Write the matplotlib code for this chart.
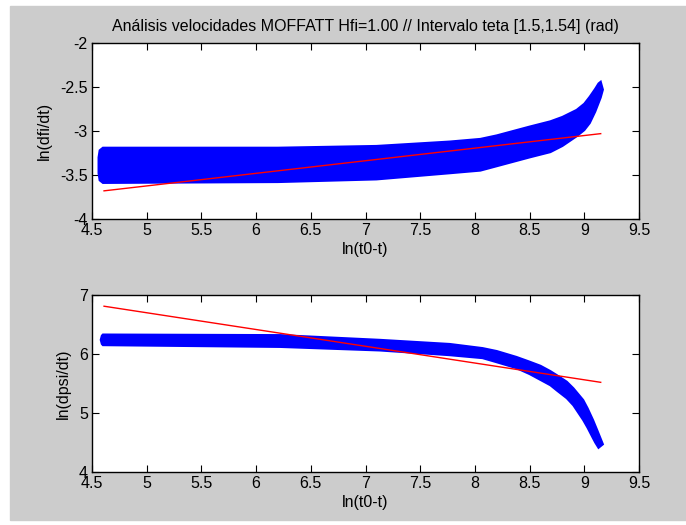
import numpy as np
import matplotlib.pyplot as plt
from matplotlib.patches import Rectangle

# === Data ===
# top panel: ln(dfi/dt) band (upper and lower edge of the blue marker cloud)
top_up_x = [4.60, 5.0, 6.2, 7.1, 7.77, 8.05, 8.2, 8.38, 8.5, 8.69, 8.8, 8.93, 9.0, 9.05, 9.1, 9.13, 9.15]
top_up_y = [-3.19, -3.19, -3.19, -3.17, -3.12, -3.09, -3.05, -2.99, -2.95, -2.89, -2.84, -2.76, -2.69, -2.61, -2.52, -2.46, -2.44]
top_lo_x = [4.60, 6.2, 7.1, 7.77, 8.05, 8.2, 8.38, 8.5, 8.69, 8.8, 8.93, 9.0, 9.05, 9.1, 9.15, 9.17]
top_lo_y = [-3.59, -3.58, -3.55, -3.48, -3.45, -3.40, -3.34, -3.30, -3.24, -3.17, -3.06, -2.99, -2.91, -2.78, -2.62, -2.53]
top_left_x = [4.57, 4.56, 4.56, 4.57]
top_left_y = [-3.56, -3.48, -3.30, -3.22]
top_fit_x = [4.61, 9.15]
top_fit_y = [-3.68, -3.03]

# bottom panel: ln(dpsi/dt)
bot_up_x = [4.60, 6.22, 7.13, 7.77, 8.07, 8.2, 8.38, 8.5, 8.6, 8.69, 8.75, 8.84, 8.9, 8.99, 9.03, 9.08, 9.12, 9.17]
bot_up_y = [6.33, 6.32, 6.24, 6.17, 6.10, 6.05, 5.95, 5.87, 5.80, 5.71, 5.64, 5.53, 5.42, 5.22, 5.08, 4.88, 4.70, 4.47]
bot_lo_x = [4.60, 6.22, 7.13, 7.77, 8.07, 8.2, 8.38, 8.5, 8.6, 8.69, 8.75, 8.84, 8.9, 8.99, 9.03, 9.08, 9.1, 9.13]
bot_lo_y = [6.15, 6.12, 6.06, 5.98, 5.93, 5.86, 5.76, 5.66, 5.56, 5.47, 5.38, 5.25, 5.13, 4.88, 4.75, 4.57, 4.50, 4.41]
bot_left_x = [4.59, 4.58, 4.59]
bot_left_y = [6.17, 6.24, 6.31]
bot_fit_x = [4.61, 9.15]
bot_fit_y = [6.81, 5.52]

xticks = [4.5, 5, 5.5, 6, 6.5, 7, 7.5, 8, 8.5, 9, 9.5]
xtick_labels = ['4.5', '5', '5.5', '6', '6.5', '7', '7.5', '8', '8.5', '9', '9.5']

plt.rcParams['font.family'] = ['Liberation Sans', 'DejaVu Sans']
fs = 11.5

fig = plt.figure(figsize=(6.86, 5.25), dpi=100, facecolor='white')
fig.patches.append(Rectangle((10 / 686, 5 / 525), 1 - 10 / 686, 1 - 11 / 525,
                             transform=fig.transFigure, color='#cccccc', zorder=-10))

ax1 = fig.add_axes([92 / 686, 1 - 219 / 525, 547 / 686, 176 / 525])
ax2 = fig.add_axes([92 / 686, 1 - 472 / 525, 547 / 686, 177 / 525])


def band(ax, ux, uy, lx, ly, mx, my):
    # outline: left edge (bottom to top), upper edge, lower edge backwards
    px = np.concatenate([mx, ux, lx[::-1]])
    py = np.concatenate([my, uy, ly[::-1]])
    ax.fill(px, py, color='blue', lw=1.5, zorder=2)


band(ax1, np.array(top_up_x), np.array(top_up_y), np.array(top_lo_x), np.array(top_lo_y),
     np.array(top_left_x), np.array(top_left_y))
ax1.plot(top_fit_x, top_fit_y, color='red', lw=1, zorder=3)
band(ax2, np.array(bot_up_x), np.array(bot_up_y), np.array(bot_lo_x), np.array(bot_lo_y),
     np.array(bot_left_x), np.array(bot_left_y))
ax2.plot(bot_fit_x, bot_fit_y, color='red', lw=1, zorder=3)

ax1.set_ylim(-4, -2)
ax1.set_yticks([-4, -3.5, -3, -2.5, -2])
ax1.set_yticklabels(['-4', '-3.5', '-3', '-2.5', '-2'])
ax2.set_ylim(4, 7)
ax2.set_yticks([4, 5, 6, 7])

for ax in (ax1, ax2):
    ax.set_xlim(4.5, 9.5)
    ax.set_xticks(xticks)
    ax.set_xticklabels(xtick_labels)
    ax.tick_params(direction='in', length=5, width=0.8, top=True, right=True,
                   labelsize=fs, pad=3)
    for s in ax.spines.values():
        s.set_linewidth(1)
    ax.set_xlabel('ln(t0-t)', fontsize=fs, labelpad=3)

ax1.set_ylabel('ln(dfi/dt)', fontsize=fs, labelpad=6)
ax2.set_ylabel('ln(dpsi/dt)', fontsize=fs, labelpad=6)
ax1.set_title('Análisis velocidades MOFFATT Hfi=1.00 // Intervalo teta [1.5,1.54] (rad)',
              fontsize=fs, pad=9)

fig.savefig('out.png', dpi=100, facecolor=fig.get_facecolor())
